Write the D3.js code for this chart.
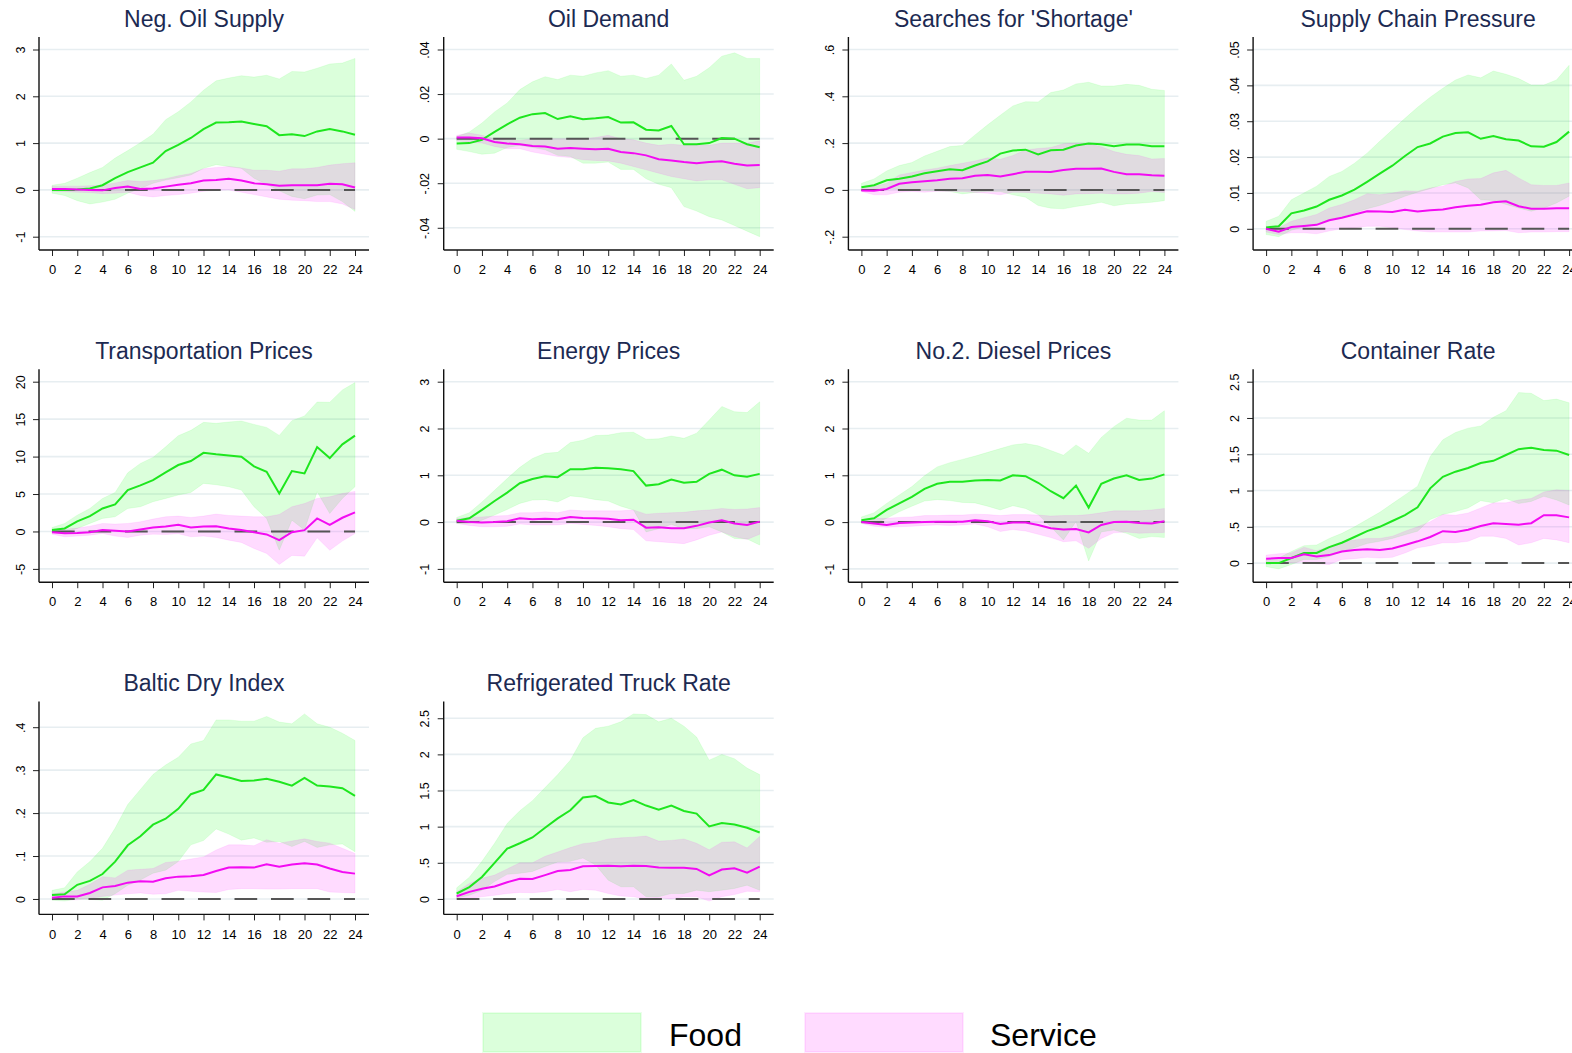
<!doctype HTML>
<html>
<head>
<script src="https://d3js.org/d3.v7.min.js"></script>
<style>
  body { margin: 0; background: #fff; }
  text { font-family: "Liberation Sans", Arial, Helvetica, sans-serif; }
</style>
</head>
<body>
<script>
// impulse responses, 0..24 months after the shock
var months = [0,1,2,3,4,5,6,7,8,9,10,11,12,13,14,15,16,17,18,19,20,21,22,23,24];
var xTicks = [0,2,4,6,8,10,12,14,16,18,20,22,24];

var titles = ["Neg. Oil Supply", "Oil Demand", "Searches for 'Shortage'", "Supply Chain Pressure",
              "Transportation Prices", "Energy Prices", "No.2. Diesel Prices", "Container Rate",
              "Baltic Dry Index", "Refrigerated Truck Rate"];

var yTicks = [
    [-1, 0, 1, 2, 3],
    [-0.04, -0.02, 0, 0.02, 0.04],
    [-0.2, 0, 0.2, 0.4, 0.6],
    [0, 0.01, 0.02, 0.03, 0.04, 0.05],
    [-5, 0, 5, 10, 15, 20],
    [-1, 0, 1, 2, 3],
    [-1, 0, 1, 2, 3],
    [0, 0.5, 1, 1.5, 2, 2.5],
    [0, 0.1, 0.2, 0.3, 0.4],
    [0, 0.5, 1, 1.5, 2, 2.5]
];

var foodMean = [
    [0,0,0.01,0.03,0.1,0.25,0.38,0.48,0.58,0.83,0.96,1.11,1.30,1.44,1.445,1.46,1.41,1.36,1.17,1.19,1.15,1.25,1.30,1.25,1.18],
    [-0.0022,-0.002,-0.0005,0.003,0.0064,0.0094,0.011,0.0115,0.0088,0.01,0.0087,0.0091,0.0097,0.0072,0.0073,0.004,0.0037,0.0057,-0.0025,-0.0025,-0.002,0.0003,0,-0.0025,-0.0039],
    [0.011,0.02,0.041,0.048,0.057,0.071,0.08,0.088,0.084,0.104,0.122,0.155,0.168,0.172,0.152,0.169,0.172,0.19,0.198,0.195,0.187,0.194,0.194,0.187,0.187],
    [0.0004,0.0007,0.0043,0.0051,0.0062,0.0081,0.0093,0.0109,0.0131,0.0154,0.0176,0.0203,0.0228,0.0238,0.0257,0.0267,0.0269,0.0251,0.0259,0.025,0.0246,0.023,0.0229,0.0242,0.0271],
    [0.18,0.4,1.34,2.05,3.07,3.6,5.53,6.15,6.86,7.9,8.87,9.4,10.5,10.3,10.16,9.98,8.69,7.98,5.08,8.07,7.75,11.27,9.8,11.63,12.79],
    [0.03,0.08,0.26,0.45,0.63,0.83,0.92,0.98,0.96,1.13,1.13,1.16,1.15,1.13,1.09,0.78,0.81,0.91,0.84,0.86,1.03,1.12,1.0,0.97,1.03],
    [0.04,0.08,0.26,0.4,0.54,0.71,0.82,0.86,0.86,0.89,0.9,0.89,1.0,0.98,0.84,0.66,0.51,0.78,0.31,0.82,0.93,1.0,0.9,0.93,1.02],
    [0,0,0.07,0.14,0.14,0.22,0.28,0.36,0.44,0.5,0.58,0.66,0.77,1.03,1.19,1.26,1.31,1.38,1.41,1.49,1.57,1.59,1.56,1.55,1.49],
    [0.009,0.011,0.033,0.042,0.058,0.087,0.125,0.146,0.173,0.187,0.21,0.244,0.254,0.29,0.283,0.275,0.276,0.28,0.273,0.264,0.282,0.264,0.262,0.258,0.24],
    [0.075,0.163,0.303,0.5,0.695,0.77,0.85,0.985,1.115,1.227,1.404,1.423,1.334,1.306,1.367,1.292,1.236,1.292,1.217,1.18,1.003,1.049,1.03,0.984,0.919]
];
var foodHi = [
    [0.1,0.14,0.25,0.37,0.48,0.68,0.84,1.01,1.19,1.5,1.67,1.88,2.13,2.33,2.39,2.44,2.41,2.45,2.37,2.53,2.52,2.6,2.69,2.71,2.81],
    [0.001,0.003,0.007,0.012,0.016,0.022,0.0255,0.0278,0.0265,0.0285,0.028,0.0295,0.0305,0.028,0.0285,0.027,0.0285,0.0335,0.0262,0.028,0.0318,0.037,0.0385,0.036,0.036],
    [0.028,0.047,0.081,0.104,0.117,0.145,0.165,0.185,0.19,0.235,0.278,0.319,0.359,0.377,0.376,0.416,0.427,0.453,0.46,0.444,0.444,0.451,0.447,0.43,0.425],
    [0.0021,0.0035,0.0081,0.01,0.0119,0.0146,0.016,0.0183,0.0211,0.0244,0.0276,0.0308,0.0339,0.0367,0.0392,0.0415,0.0429,0.0421,0.044,0.0431,0.0419,0.0401,0.0401,0.0415,0.0456],
    [0.53,1.07,2.18,3.07,4.41,5.21,7.84,9.09,9.89,11.3,12.79,13.5,14.57,14.44,14.62,14.75,14.3,13.9,12.83,14.8,15.42,17.29,17.25,18.9,19.88],
    [0.1,0.2,0.43,0.68,0.93,1.17,1.36,1.47,1.49,1.7,1.75,1.85,1.86,1.91,1.92,1.77,1.78,1.84,1.79,1.9,2.18,2.47,2.36,2.34,2.57],
    [0.11,0.2,0.4,0.58,0.76,0.99,1.18,1.27,1.34,1.41,1.49,1.57,1.65,1.68,1.63,1.53,1.43,1.65,1.47,1.81,2.04,2.22,2.18,2.18,2.38],
    [0.05,0.07,0.16,0.24,0.25,0.34,0.41,0.5,0.6,0.7,0.82,0.94,1.06,1.47,1.7,1.8,1.86,1.89,2.01,2.1,2.35,2.34,2.24,2.26,2.21],
    [0.02,0.026,0.063,0.087,0.118,0.165,0.22,0.255,0.29,0.312,0.33,0.361,0.369,0.417,0.417,0.414,0.414,0.425,0.412,0.408,0.431,0.408,0.4,0.386,0.369],
    [0.154,0.3,0.52,0.77,1.045,1.22,1.36,1.54,1.72,1.92,2.23,2.36,2.39,2.45,2.56,2.55,2.45,2.5,2.39,2.24,1.92,2.0,1.94,1.81,1.72]
];
var foodLo = [
    [-0.07,-0.12,-0.23,-0.3,-0.26,-0.2,-0.07,0.03,0.14,0.21,0.26,0.32,0.46,0.54,0.5,0.46,0.25,0.12,-0.02,-0.14,-0.19,-0.11,-0.1,-0.25,-0.46],
    [-0.0048,-0.0058,-0.007,-0.0065,-0.004,-0.003,-0.004,-0.005,-0.0075,-0.008,-0.011,-0.011,-0.0105,-0.0138,-0.0138,-0.018,-0.0205,-0.022,-0.0305,-0.0325,-0.035,-0.0365,-0.039,-0.0415,-0.044],
    [0,0.003,0.007,0.003,0,-0.003,-0.004,-0.007,-0.017,-0.011,-0.007,-0.007,-0.021,-0.031,-0.067,-0.078,-0.081,-0.071,-0.063,-0.053,-0.068,-0.06,-0.057,-0.053,-0.046],
    [-0.0016,-0.0022,-0.0004,0.0005,0.0012,0.0026,0.0033,0.0044,0.0056,0.0065,0.0077,0.0091,0.0102,0.0112,0.0123,0.0128,0.0114,0.0081,0.0079,0.0068,0.0058,0.0049,0.0058,0.0072,0.0091],
    [-0.04,-0.18,0.4,1.07,1.74,1.96,3.07,3.3,3.97,4.41,4.86,5.21,6.42,6.24,5.97,5.53,3.3,1.74,-2.5,1.51,0.18,5.3,2.4,4.41,5.97],
    [-0.03,-0.03,0.04,0.15,0.27,0.4,0.47,0.48,0.43,0.56,0.53,0.48,0.45,0.34,0.26,-0.21,-0.14,-0.05,-0.14,-0.14,-0.1,-0.21,-0.35,-0.36,-0.49],
    [-0.03,-0.04,0.08,0.22,0.34,0.45,0.48,0.46,0.42,0.41,0.34,0.26,0.35,0.29,0.16,-0.1,-0.38,0.01,-0.83,-0.21,-0.17,-0.24,-0.35,-0.31,-0.33],
    [-0.05,-0.08,-0.02,0.05,0.05,0.09,0.16,0.21,0.27,0.3,0.34,0.39,0.44,0.6,0.67,0.71,0.76,0.86,0.83,0.89,0.82,0.85,0.92,0.87,0.8],
    [-0.003,-0.005,0,-0.001,-0.003,0.012,0.032,0.044,0.06,0.067,0.087,0.126,0.136,0.163,0.151,0.137,0.142,0.132,0.134,0.122,0.134,0.12,0.126,0.128,0.11],
    [0.014,0.05,0.12,0.24,0.34,0.355,0.38,0.45,0.51,0.52,0.565,0.47,0.26,0.168,0.168,0.03,0.03,0.075,0.075,0.12,0.1,0.12,0.145,0.19,0.12]
];

var serviceMean = [
    [0.02,0.02,0.01,0,-0.01,0.04,0.07,0.02,0.03,0.07,0.11,0.14,0.2,0.21,0.24,0.2,0.14,0.12,0.09,0.1,0.1,0.1,0.13,0.12,0.05],
    [0.0005,0.0005,0.0002,-0.0015,-0.0022,-0.0025,-0.0033,-0.0035,-0.0045,-0.0042,-0.0045,-0.0048,-0.0045,-0.006,-0.0065,-0.0075,-0.0092,-0.0098,-0.0105,-0.011,-0.0105,-0.0102,-0.0113,-0.012,-0.0118],
    [-0.003,-0.004,0.004,0.026,0.033,0.037,0.041,0.048,0.05,0.06,0.064,0.057,0.067,0.078,0.078,0.077,0.085,0.09,0.09,0.091,0.077,0.067,0.067,0.063,0.061],
    [0,-0.0008,0.0005,0.0008,0.0011,0.0024,0.0031,0.004,0.0049,0.0048,0.0047,0.0053,0.0048,0.0052,0.0054,0.006,0.0064,0.0067,0.0074,0.0077,0.0063,0.0056,0.0056,0.0057,0.0057],
    [-0.1,-0.25,-0.2,-0.1,0.2,0.1,0,0.27,0.53,0.67,0.89,0.53,0.67,0.71,0.4,0.18,-0.1,-0.4,-1.16,-0.1,0.18,1.74,0.89,1.83,2.54],
    [0.03,0,-0.01,0,0.02,0.08,0.06,0.07,0.06,0.11,0.09,0.08,0.07,0.04,0.05,-0.12,-0.11,-0.13,-0.13,-0.08,-0.01,0.04,-0.03,-0.06,0.01],
    [0,-0.03,-0.06,-0.02,-0.01,0,0.01,0.01,0.01,0.04,0.02,-0.04,-0.01,-0.01,-0.06,-0.13,-0.16,-0.15,-0.22,-0.06,0,0.01,-0.02,-0.03,0.02],
    [0.06,0.07,0.07,0.12,0.09,0.11,0.16,0.18,0.19,0.18,0.2,0.25,0.3,0.36,0.44,0.43,0.46,0.51,0.55,0.54,0.53,0.55,0.66,0.66,0.63],
    [0.003,0.006,0.006,0.014,0.027,0.03,0.038,0.041,0.04,0.048,0.052,0.053,0.056,0.065,0.073,0.074,0.073,0.081,0.075,0.08,0.083,0.08,0.071,0.063,0.059],
    [0.037,0.098,0.14,0.173,0.23,0.28,0.275,0.33,0.387,0.4,0.452,0.457,0.46,0.452,0.46,0.457,0.434,0.43,0.43,0.415,0.326,0.406,0.424,0.364,0.448]
];
var serviceHi = [
    [0.08,0.08,0.08,0.09,0.1,0.15,0.2,0.18,0.2,0.24,0.3,0.35,0.45,0.48,0.5,0.47,0.42,0.42,0.4,0.45,0.45,0.48,0.53,0.56,0.58],
    [0.0015,0.0025,0.0015,0,-0.0005,-0.0008,0,0,0,0,0,0.0005,0.0015,0,-0.0005,-0.002,-0.003,-0.0025,-0.003,-0.003,-0.003,-0.002,-0.002,-0.002,-0.001],
    [0.007,0.014,0.028,0.064,0.074,0.085,0.093,0.104,0.114,0.124,0.137,0.131,0.147,0.171,0.177,0.181,0.197,0.2,0.197,0.184,0.164,0.152,0.147,0.132,0.134],
    [0.0007,0.0003,0.0021,0.0031,0.004,0.0058,0.0068,0.0081,0.0098,0.0095,0.01,0.0106,0.0105,0.0114,0.0119,0.0132,0.0139,0.014,0.0156,0.0163,0.0142,0.0123,0.0121,0.0121,0.0128],
    [0.27,0.3,0.45,0.71,1.07,0.98,1.07,1.29,1.65,1.96,2.05,1.87,2.05,2.32,2.14,2.05,1.96,1.96,2.27,3.3,3.74,4.41,4.63,5.08,5.35],
    [0.07,0.1,0.11,0.13,0.14,0.2,0.2,0.22,0.2,0.26,0.24,0.24,0.24,0.24,0.26,0.17,0.19,0.2,0.21,0.24,0.26,0.29,0.27,0.28,0.31],
    [0.04,0.08,0.08,0.1,0.11,0.14,0.14,0.15,0.15,0.17,0.16,0.14,0.16,0.16,0.15,0.13,0.14,0.14,0.16,0.2,0.24,0.24,0.24,0.26,0.29],
    [0.11,0.13,0.14,0.22,0.17,0.23,0.29,0.32,0.34,0.34,0.37,0.44,0.5,0.57,0.67,0.66,0.69,0.76,0.83,0.83,0.87,0.89,0.98,1.01,1.0],
    [0.012,0.016,0.02,0.034,0.052,0.049,0.067,0.069,0.071,0.085,0.088,0.093,0.098,0.114,0.126,0.126,0.124,0.138,0.13,0.135,0.14,0.134,0.13,0.118,0.106],
    [0.1,0.215,0.285,0.33,0.415,0.5,0.5,0.59,0.65,0.71,0.765,0.785,0.83,0.845,0.855,0.87,0.8,0.81,0.83,0.77,0.68,0.785,0.79,0.705,0.865]
];
var serviceLo = [
    [-0.03,-0.04,-0.05,-0.06,-0.08,-0.07,-0.05,-0.12,-0.15,-0.12,-0.1,-0.07,-0.03,-0.01,0,-0.05,-0.1,-0.15,-0.2,-0.22,-0.23,-0.25,-0.25,-0.3,-0.42],
    [-0.001,-0.0015,-0.002,-0.0035,-0.0045,-0.0045,-0.006,-0.007,-0.008,-0.0085,-0.0095,-0.0098,-0.01,-0.011,-0.0125,-0.014,-0.0155,-0.017,-0.018,-0.019,-0.0185,-0.0185,-0.0205,-0.0225,-0.022],
    [-0.007,-0.021,-0.021,-0.01,-0.007,-0.01,-0.006,-0.007,-0.007,-0.011,-0.014,-0.021,-0.01,-0.011,-0.014,-0.017,-0.023,-0.017,-0.016,-0.014,-0.017,-0.017,-0.014,-0.007,-0.011],
    [-0.0009,-0.0016,-0.0011,-0.0011,-0.0014,-0.0006,0,0.0003,0.0007,0.0007,0.0003,-0.0002,-0.0006,-0.0009,-0.0009,-0.0009,-0.0009,-0.0006,-0.0006,-0.0005,-0.0011,-0.0009,-0.0009,-0.0008,-0.0008],
    [-0.36,-0.71,-0.62,-0.49,-0.27,-0.62,-0.8,-0.49,-0.36,-0.4,-0.31,-0.71,-0.62,-0.8,-1.16,-1.47,-2.27,-2.94,-4.41,-3.2,-3.3,-0.85,-2.5,-1.29,-0.27],
    [-0.03,-0.07,-0.1,-0.1,-0.09,-0.04,-0.06,-0.06,-0.06,-0.03,-0.05,-0.07,-0.1,-0.14,-0.16,-0.4,-0.42,-0.44,-0.46,-0.38,-0.28,-0.21,-0.31,-0.37,-0.26],
    [-0.03,-0.09,-0.11,-0.1,-0.09,-0.07,-0.06,-0.07,-0.06,-0.04,-0.1,-0.2,-0.16,-0.19,-0.26,-0.33,-0.42,-0.4,-0.56,-0.35,-0.23,-0.21,-0.24,-0.23,-0.22],
    [0.01,0,0,0.02,-0.01,-0.02,0.05,0.06,0.08,0.07,0.08,0.14,0.21,0.24,0.28,0.28,0.3,0.37,0.37,0.34,0.25,0.28,0.34,0.32,0.28],
    [-0.002,-0.002,-0.002,0.001,0.006,0.009,0.012,0.014,0.011,0.012,0.02,0.018,0.016,0.015,0.022,0.024,0.024,0.023,0.023,0.024,0.024,0.024,0.016,0.015,0.014],
    [0,0.005,0.03,0.05,0.075,0.09,0.085,0.1,0.13,0.1,0.13,0.12,0.075,0.04,0.03,0,0.015,0,0.03,0.03,-0.03,0.03,0.06,0.105,0.1]
];

var canvasWidth = 1572;
var canvasHeight = 1053;

var colStep = 404.7, rowStep = 332.2;
var innerH = 187.2;      // tick-to-tick height of the plot region
var plotW = 330;         // from the y axis line to the right edge of the plot region

var foodColor = "#1ee61e", serviceColor = "#f20cf2";
var foodFill = "#00ff00", serviceFill = "#ff00ff", bandOpacity = 0.14;

var svg = d3.select("body").append("svg")
    .attr("width", canvasWidth)
    .attr("height", canvasHeight)
    .style("display", "block");

svg.append("rect").attr("width", canvasWidth).attr("height", canvasHeight).attr("fill", "#fff");

// Stata style labels: drop the leading zero
function fmt(v) {
    var s = String(+v.toFixed(4));
    return s.replace(/^(-?)0\./, "$1.");
}

titles.forEach(function(title, i) {
    var col = i % 4, row = Math.floor(i / 4);
    var ax = 39 + colStep * col;
    var top = 49.5 + rowStep * row;

    var all = foodLo[i].concat(foodHi[i], serviceLo[i], serviceHi[i], yTicks[i]);
    var yScale = d3.scaleLinear().domain(d3.extent(all)).range([top + innerH, top]);
    var xScale = d3.scaleLinear().domain([0, 24]).range([ax + 13, ax + 316]);

    var g = svg.append("g");

    // grid lines
    g.selectAll(".grid")
        .data(yTicks[i])
        .enter().append("line")
        .attr("x1", ax).attr("x2", ax + plotW)
        .attr("y1", function(d) { return yScale(d); })
        .attr("y2", function(d) { return yScale(d); })
        .attr("stroke", "#e7eef1")
        .attr("stroke-width", 1.6);

    // confidence bands
    var band = function(lo, hi) {
        return d3.area()
            .x(function(d) { return xScale(d); })
            .y0(function(d) { return yScale(lo[d]); })
            .y1(function(d) { return yScale(hi[d]); });
    };
    g.append("path").datum(months)
        .attr("d", band(foodLo[i], foodHi[i]))
        .attr("fill", foodFill).attr("fill-opacity", bandOpacity)
        .attr("stroke", foodFill).attr("stroke-opacity", 0.08);
    g.append("path").datum(months)
        .attr("d", band(serviceLo[i], serviceHi[i]))
        .attr("fill", serviceFill).attr("fill-opacity", bandOpacity)
        .attr("stroke", serviceFill).attr("stroke-opacity", 0.08);

    // zero line
    g.append("line")
        .attr("x1", xScale(0)).attr("x2", xScale(24))
        .attr("y1", yScale(0)).attr("y2", yScale(0))
        .attr("stroke", "#555")
        .attr("stroke-width", 2)
        .attr("stroke-dasharray", "22.7,13.8");

    var line = function(vals) {
        return d3.line()
            .x(function(d) { return xScale(d); })
            .y(function(d) { return yScale(vals[d]); });
    };
    g.append("path").datum(months)
        .attr("d", line(foodMean[i]))
        .attr("fill", "none").attr("stroke", foodColor).attr("stroke-width", 2);
    g.append("path").datum(months)
        .attr("d", line(serviceMean[i]))
        .attr("fill", "none").attr("stroke", serviceColor).attr("stroke-width", 2);

    // axes
    var bottom = top + innerH + 13.3;
    var xAxis = g.append("g")
        .attr("transform", "translate(0," + bottom + ")")
        .call(d3.axisBottom(xScale).tickValues(xTicks).tickSize(6).tickPadding(9));
    xAxis.select(".domain").remove();
    xAxis.selectAll("text").attr("font-size", "13px").attr("fill", "#000")
        .style("font-family", "'Liberation Sans', Arial, sans-serif");
    xAxis.selectAll("line").attr("stroke", "#222");

    var yAxis = g.append("g")
        .attr("transform", "translate(" + ax + ",0)")
        .call(d3.axisLeft(yScale).tickValues(yTicks[i]).tickFormat(fmt).tickSize(6));
    yAxis.select(".domain").remove();
    yAxis.selectAll("line").attr("stroke", "#222");
    yAxis.selectAll("text")
        .attr("transform", "rotate(-90)")
        .attr("x", 0).attr("y", -14.5).attr("dy", 0)
        .attr("text-anchor", "middle")
        .attr("font-size", "12.5px").attr("fill", "#000")
        .style("font-family", "'Liberation Sans', Arial, sans-serif");

    g.append("line")
        .attr("x1", ax).attr("x2", ax)
        .attr("y1", top - 12.5).attr("y2", bottom)
        .attr("stroke", "#111").attr("stroke-width", 1.4);
    g.append("line")
        .attr("x1", ax).attr("x2", ax + plotW)
        .attr("y1", bottom).attr("y2", bottom)
        .attr("stroke", "#111").attr("stroke-width", 1.4);

    g.append("text")
        .attr("x", ax + plotW / 2)
        .attr("y", top - 23)
        .attr("text-anchor", "middle")
        .attr("font-size", "23px")
        .attr("fill", "#1c2a52")
        .text(title);
});

// legend
var legend = [
    {label: "Food", fill: foodFill, x: 483, tx: 669},
    {label: "Service", fill: serviceFill, x: 805, tx: 990}
];
var lg = svg.append("g");
legend.forEach(function(d) {
    lg.append("rect")
        .attr("x", d.x).attr("y", 1013)
        .attr("width", 158).attr("height", 39)
        .attr("fill", d.fill).attr("fill-opacity", bandOpacity)
        .attr("stroke", d.fill).attr("stroke-opacity", 0.08).attr("stroke-width", 2);
    lg.append("text")
        .attr("x", d.tx).attr("y", 1046)
        .attr("font-size", "32px")
        .attr("fill", "#000")
        .text(d.label);
});
</script>
</body>
</html>
